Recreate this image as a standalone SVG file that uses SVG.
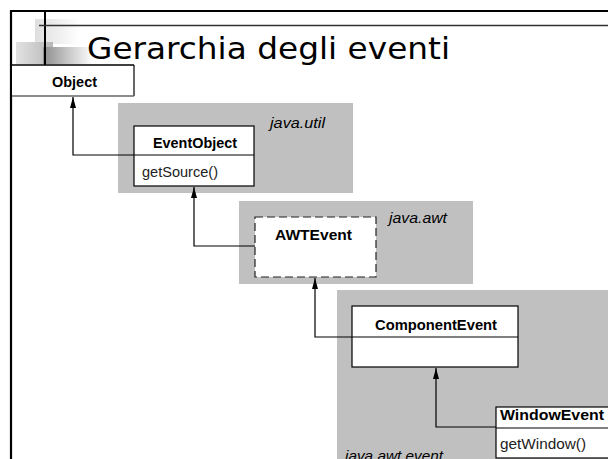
<svg xmlns="http://www.w3.org/2000/svg" width="608" height="459" viewBox="0 0 608 459">
<defs>
<linearGradient id="gLight" x1="0" y1="0" x2="1" y2="0"><stop offset="0" stop-color="#dedede"/><stop offset="1" stop-color="#ffffff"/></linearGradient>
<linearGradient id="gMid" x1="0" y1="0" x2="1" y2="0"><stop offset="0" stop-color="#e2e2e2"/><stop offset="1" stop-color="#b8b8b8"/></linearGradient>
<linearGradient id="gDark" x1="0" y1="0" x2="1" y2="0"><stop offset="0" stop-color="#8e8e8e"/><stop offset="1" stop-color="#ffffff"/></linearGradient>
<marker id="arr" markerWidth="11" markerHeight="6" refX="11" refY="3" orient="auto" markerUnits="userSpaceOnUse" viewBox="0 0 11 6">
<path d="M0,0 L11,3 L0,6 Z" fill="#000"/>
</marker>
<style>
.pkg{fill:#c0c0c0}
.box{fill:#fff;stroke:#000;stroke-width:1.2}
.dash{fill:#fff;stroke:#222;stroke-width:1.2;stroke-dasharray:8 4}
.lbl{font-family:"Liberation Sans",Arial,sans-serif;font-size:14px;font-weight:bold;fill:#000}
.mth{font-family:"Liberation Sans",Arial,sans-serif;font-size:14px;fill:#222}
.pk{font-family:"Liberation Sans",Arial,sans-serif;font-size:14px;font-style:italic;fill:#000}
.con{fill:none;stroke:#000;stroke-width:1.2}
</style>
</defs>
<rect width="608" height="459" fill="#fff"/>
<g id="decor">
<rect x="35" y="19" width="45" height="25" fill="url(#gLight)"/>
<rect x="16" y="42" width="37" height="22" fill="url(#gMid)"/>
<rect x="43" y="47" width="50" height="17" fill="url(#gDark)"/>
<line x1="11" y1="11" x2="608" y2="11" stroke="#000" stroke-width="2"/>
<line x1="11" y1="10" x2="11" y2="459" stroke="#000" stroke-width="2.2"/>
<line x1="45" y1="11" x2="45" y2="65" stroke="#000" stroke-width="2"/>
<line x1="39" y1="25.5" x2="608" y2="25.5" stroke="#333" stroke-width="1.6"/>
</g>
<text x="87" y="59" font-family="Tahoma,'DejaVu Sans',sans-serif" font-size="30" textLength="363" lengthAdjust="spacingAndGlyphs" fill="#000">Gerarchia degli eventi</text>
<g id="pkg-util"><rect class="pkg" x="118" y="103" width="235" height="90"/><text class="pk" x="270" y="128" textLength="55" lengthAdjust="spacingAndGlyphs">java.util</text></g>
<g id="pkg-awt"><rect class="pkg" x="239" y="201" width="234" height="83"/><text class="pk" x="389" y="223" textLength="58" lengthAdjust="spacingAndGlyphs">java.awt</text></g>
<g id="pkg-event"><rect class="pkg" x="337" y="290" width="275" height="175"/><text class="pk" x="345" y="461" textLength="98" lengthAdjust="spacingAndGlyphs">java.awt.event</text></g>
<g id="Object">
<rect x="12" y="65" width="122" height="31" fill="#fff"/>
<line x1="11" y1="65" x2="134" y2="65" stroke="#000" stroke-width="1.5"/>
<line x1="134" y1="65" x2="134" y2="96" stroke="#000" stroke-width="1.2"/>
<line x1="12" y1="96" x2="134" y2="96" stroke="#666" stroke-width="1.5"/>
<text class="lbl" x="52" y="87" textLength="45" lengthAdjust="spacingAndGlyphs">Object</text>
</g>
<g id="EventObject">
<rect class="box" x="134" y="126" width="120" height="60"/>
<text class="lbl" x="153" y="148" textLength="84" lengthAdjust="spacingAndGlyphs">EventObject</text>
<text class="mth" x="142" y="177" textLength="76" lengthAdjust="spacingAndGlyphs">getSource()</text>
</g>
<g id="AWTEvent">
<rect class="dash" x="255" y="217" width="121" height="60"/>
<text class="lbl" x="275" y="240" textLength="77" lengthAdjust="spacingAndGlyphs">AWTEvent</text>
</g>
<g id="ComponentEvent">
<rect class="box" x="352" y="306" width="166" height="61"/>
<text class="lbl" x="375" y="330" textLength="122" lengthAdjust="spacingAndGlyphs">ComponentEvent</text>
</g>
<g id="WindowEvent">
<rect class="box" x="496" y="407" width="115" height="51"/>
<line x1="496" y1="428" x2="611" y2="428" stroke="#000" stroke-width="1.2"/>
<text class="lbl" x="500" y="420" textLength="104" lengthAdjust="spacingAndGlyphs">WindowEvent</text>
<text class="mth" x="500" y="449" textLength="86" lengthAdjust="spacingAndGlyphs">getWindow()</text>
</g>
<g id="connectors">
<path class="con" d="M254,155 H73 V97" marker-end="url(#arr)"/>
<path class="con" d="M255,246 H194 V187" marker-end="url(#arr)"/>
<path class="con" d="M518,337 H315 V278" marker-end="url(#arr)"/>
<path class="con" d="M496,427 H436 V368" marker-end="url(#arr)"/>
</g>
</svg>
